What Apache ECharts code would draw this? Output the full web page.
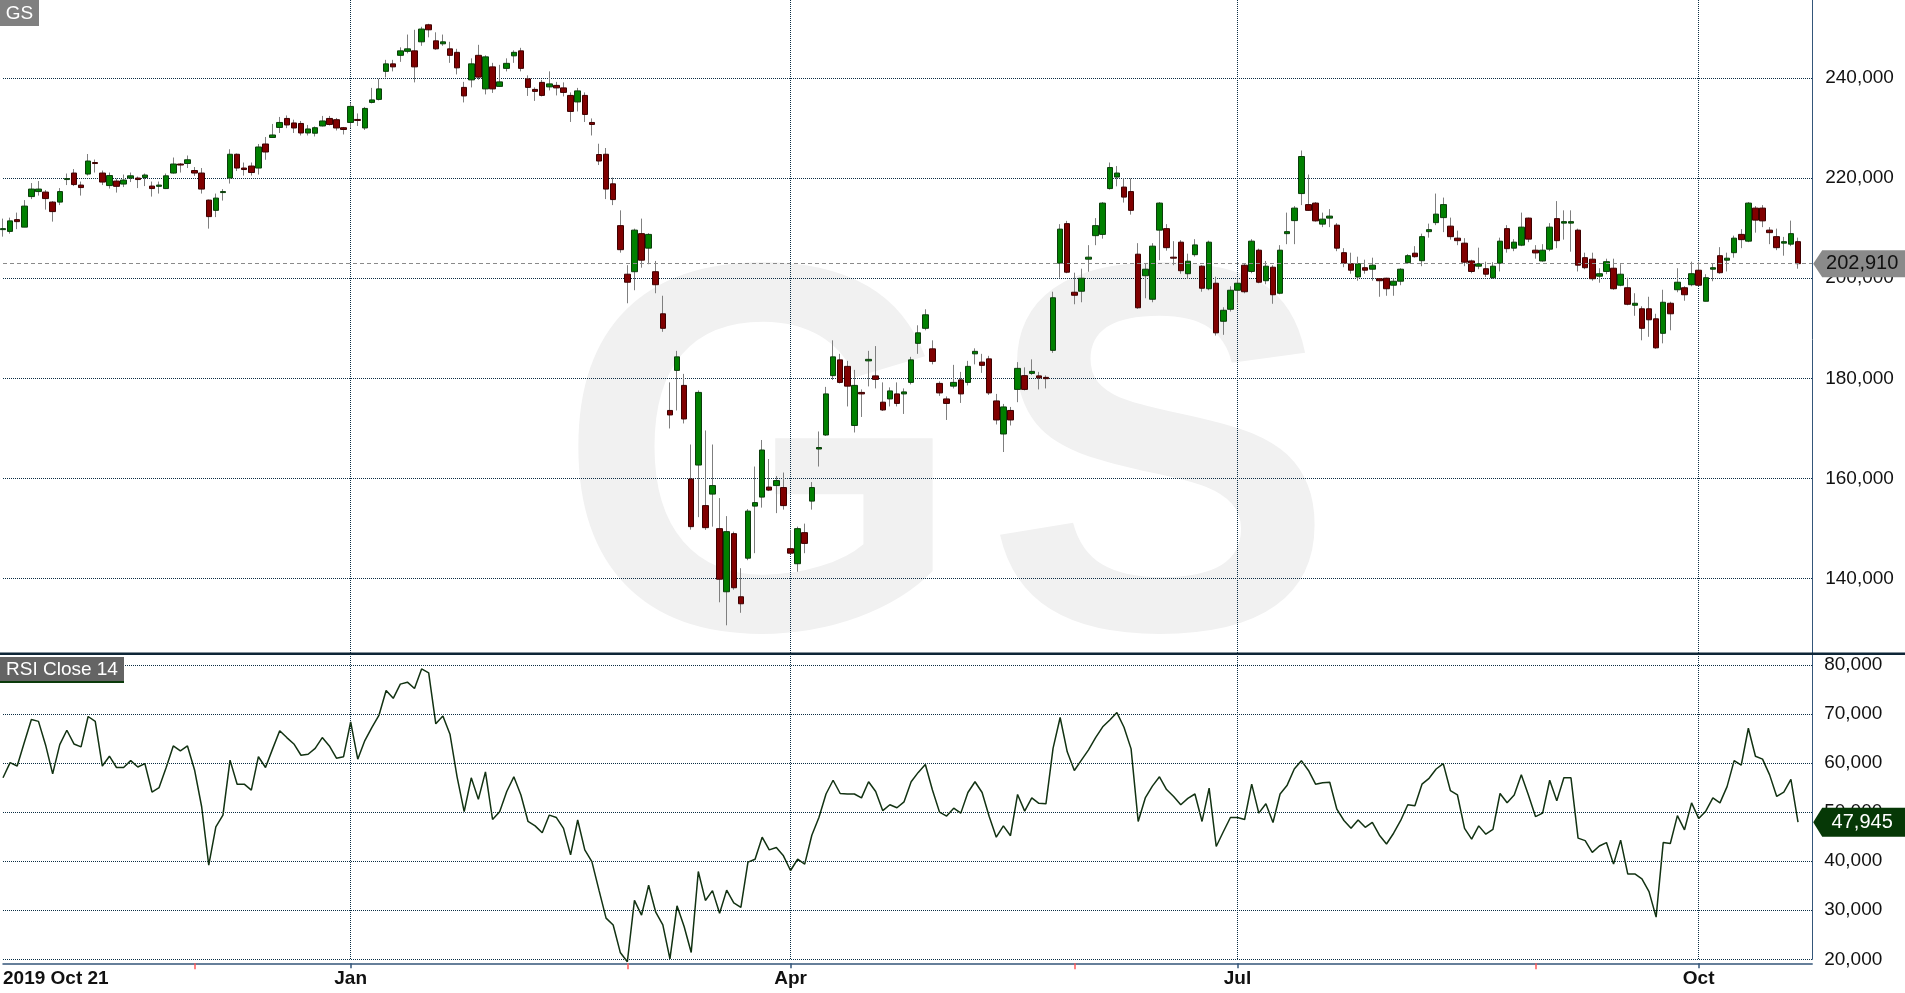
<!DOCTYPE html>
<html><head><meta charset="utf-8">
<script src="https://cdn.jsdelivr.net/npm/echarts@6/dist/echarts.min.js"></script>
<style>html,body{margin:0;padding:0;background:#fff;overflow:hidden;}#chart{width:1905px;height:993px;}</style>
</head><body><div id="chart"></div>
<script>
// ---- Data (GS daily, 2019-10-21 .. 2020-10-21), prices in USD ----
const open = [209.7,209.35,211.7,210.2,216.3,217.3,217.2,215.2,215.2,219.7,
221.0,218.6,220.8,223.1,221.0,218.5,219.4,218.8,220.0,220.0,
220.1,218.4,218.35,217.9,221.0,222.8,222.9,221.5,221.0,215.6,
213.55,217.1,220.0,224.75,222.0,222.4,222.0,226.8,228.1,230.1,
231.9,231.0,230.9,229.0,228.95,230.4,231.9,231.65,230.05,231.1,
231.7,230.0,235.1,235.7,241.3,242.8,244.5,245.3,245.4,247.2,
250.6,247.4,246.8,245.8,245.1,238.1,239.6,244.5,237.8,242.2,
238.3,241.9,244.4,245.4,239.8,237.7,239.1,238.2,238.5,238.0,
236.5,235.2,236.5,231.1,224.7,224.75,218.85,210.5,200.8,201.3,
208.9,206.0,201.3,192.9,173.6,181.6,178.6,159.9,162.7,154.6,
156.9,150.0,137.4,149.0,136.4,144.1,154.5,156.3,158.3,158.6,
158.2,146.0,143.0,149.2,155.5,165.9,168.7,180.55,183.7,182.4,
170.6,177.2,183.5,180.5,175.25,175.9,176.9,176.9,179.2,187.0,
190.0,185.9,179.0,175.9,178.45,179.7,179.2,184.9,183.25,183.9,
175.5,168.9,173.6,177.8,180.55,181.0,180.5,180.2,185.6,203.0,
210.9,197.2,197.4,203.8,208.5,208.75,217.9,220.2,218.2,217.3,
204.8,200.5,195.8,209.6,209.9,204.2,207.2,200.9,204.7,202.4,
197.9,199.0,191.4,193.8,197.6,202.6,201.35,205.6,199.5,202.2,
197.0,208.9,211.5,216.9,214.7,215.0,210.8,212.0,210.6,205.1,
202.9,200.25,202.1,201.8,199.9,200.0,198.6,199.4,203.1,205.0,
203.5,209.3,211.1,212.1,210.4,208.0,207.0,203.45,202.4,201.9,
200.1,203.0,209.9,206.0,206.6,212.0,205.6,203.45,205.8,211.9,
211.0,211.0,209.6,204.1,203.8,200.4,201.35,202.0,198.6,198.1,
194.6,193.9,193.9,191.9,189.0,195.0,197.7,198.1,198.7,201.6,
195.4,201.8,204.5,203.6,205.1,208.75,207.4,214.0,214.0,209.6,
208.3,207.0,206.8,207.3];
const close = [209.9,211.45,211.3,214.4,217.8,217.8,215.9,213.3,217.3,219.9,
218.7,218.1,223.4,222.9,219.2,220.5,218.35,219.6,220.45,219.7,
220.6,217.9,218.6,220.45,222.8,222.6,223.65,221.0,217.8,212.3,
216.0,217.3,224.75,222.0,221.7,221.1,226.2,225.2,228.6,231.1,
230.6,230.0,229.0,229.8,230.05,231.4,230.7,230.0,229.7,234.3,
231.5,233.9,235.6,237.8,242.8,242.2,245.4,245.8,242.2,249.75,
249.6,245.8,247.2,244.5,242.0,236.4,242.8,240.15,244.2,237.8,
239.2,242.9,245.1,241.9,238.1,237.3,236.5,238.8,238.0,237.1,
233.3,237.4,232.7,230.7,223.4,217.8,215.7,205.7,199.2,209.6,
203.6,208.75,198.7,190.0,172.7,184.3,171.9,150.4,177.2,150.2,
158.6,139.9,149.4,138.2,135.0,153.5,155.2,165.7,157.7,159.6,
154.6,145.1,150.0,147.05,158.2,166.2,176.9,184.3,179.2,178.45,
178.6,176.9,183.8,179.8,173.7,177.5,175.0,177.3,183.7,189.1,
192.7,183.4,177.1,175.0,179.2,176.9,182.4,185.4,182.6,177.1,
171.7,174.3,171.7,182.0,177.8,181.4,180.1,179.95,196.1,209.8,
201.2,196.6,200.0,204.2,210.5,215.0,222.1,221.0,216.2,213.55,
194.1,201.8,206.4,215.0,206.1,204.0,201.5,203.4,206.65,198.0,
207.2,189.1,193.6,197.6,199.0,197.3,207.4,199.2,202.4,196.7,
205.6,209.3,214.0,224.3,213.55,211.45,211.8,212.4,206.0,203.0,
201.6,202.9,201.6,202.6,199.5,197.9,199.4,201.8,204.5,204.3,
208.3,209.7,212.8,214.7,208.3,207.5,203.2,201.35,202.9,200.8,
202.4,207.4,205.9,207.2,210.2,207.8,205.05,205.6,210.2,207.5,
211.3,211.3,202.6,202.1,199.9,200.9,203.3,197.9,200.8,194.8,
195.0,190.0,191.7,186.1,195.2,192.9,199.2,196.7,200.9,198.6,
200.1,202.1,201.1,204.0,208.0,207.7,215.0,211.6,211.45,209.1,
206.1,207.3,208.9,202.91];
const high = [211.9,212.1,213.1,215.6,219.0,219.4,217.6,215.4,218.0,220.9,
221.8,219.3,224.8,223.7,221.5,221.1,219.9,220.7,221.1,220.3,
220.9,219.3,219.3,220.9,224.1,223.0,224.5,222.2,222.0,215.7,
216.9,217.8,225.75,224.9,223.1,223.1,226.8,228.2,230.8,232.2,
232.5,231.65,231.4,230.6,230.3,232.4,232.4,232.0,230.2,235.0,
232.9,234.2,238.0,239.8,243.6,243.6,246.1,248.65,249.6,250.2,
250.8,249.1,248.65,247.2,245.8,239.2,243.9,246.6,244.5,243.0,
242.6,243.9,245.5,246.0,240.5,238.1,239.6,241.3,239.2,239.1,
237.1,238.0,237.1,231.9,226.85,226.0,220.1,213.55,202.6,209.9,
211.9,209.0,203.45,196.5,179.2,185.5,180.9,166.8,177.6,169.6,
166.8,156.1,152.5,149.4,142.1,153.9,162.4,167.7,163.9,160.5,
161.2,149.75,150.4,151.0,159.3,169.4,178.3,187.6,184.9,183.5,
181.7,177.8,185.5,186.45,179.2,178.2,179.2,178.0,184.3,190.6,
193.8,187.6,179.4,176.4,182.7,181.3,183.5,186.0,184.9,184.5,
176.9,174.9,174.3,183.25,182.2,183.8,181.3,180.6,197.3,210.8,
211.45,201.1,201.9,206.6,212.0,215.2,223.1,222.4,219.9,219.9,
207.0,203.0,207.0,215.2,210.8,207.4,207.6,204.9,207.8,202.6,
207.5,200.3,194.2,198.4,199.8,202.8,207.8,205.9,203.45,202.6,
206.6,213.1,214.4,225.5,220.7,215.2,213.1,213.8,211.0,206.0,
205.1,204.3,203.7,204.1,200.0,200.1,199.9,202.0,204.8,206.4,
208.9,210.9,216.9,216.1,212.1,209.5,208.0,203.7,206.1,203.3,
203.2,208.1,210.6,207.8,213.1,212.1,206.6,206.8,211.0,215.4,
213.55,213.55,209.9,205.1,205.1,202.0,203.9,203.9,202.8,200.1,
197.0,194.4,196.3,192.9,197.7,195.3,202.0,198.4,203.3,203.3,
200.8,203.0,206.2,205.1,208.5,209.8,215.2,214.4,214.6,210.2,
209.9,208.25,211.5,208.1];
const low = [208.3,208.9,209.8,210.2,215.8,216.5,213.7,211.3,214.6,218.6,
218.4,216.5,220.5,221.1,218.6,217.9,217.1,218.2,219.2,218.0,
218.4,216.3,216.9,217.8,220.9,221.1,222.0,220.45,216.9,209.9,
212.2,215.5,218.9,221.4,220.5,220.5,220.7,223.65,228.0,229.0,
229.96,229.0,228.5,228.5,228.3,230.3,230.5,229.5,228.7,230.0,
230.4,229.6,234.9,235.5,240.1,241.3,243.2,244.9,239.1,246.4,
248.1,245.6,246.4,243.0,240.7,235.1,238.1,239.6,236.7,237.0,
238.2,241.3,243.0,241.3,236.4,235.4,236.3,237.5,236.5,236.3,
231.2,233.3,231.2,228.5,222.6,215.8,214.6,205.1,195.0,197.6,
202.1,202.8,197.0,189.3,170.0,173.6,171.0,149.8,152.3,149.75,
150.4,135.3,130.7,137.8,133.2,143.7,145.1,154.2,157.5,153.1,
153.8,144.9,141.4,145.1,153.8,162.4,168.5,179.7,179.0,174.4,
169.2,172.3,178.4,178.0,173.5,174.4,174.4,172.9,178.8,184.9,
189.6,182.8,176.5,171.7,178.0,175.1,178.6,182.8,181.1,176.7,
170.8,165.3,170.6,175.25,177.6,180.7,177.8,178.0,185.1,200.1,
201.0,194.8,195.2,201.3,206.6,207.9,217.7,218.35,215.1,212.7,
193.9,196.0,195.2,203.6,205.5,202.6,200.9,199.9,204.3,197.3,
197.6,188.55,188.7,193.35,195.0,197.0,201.0,199.0,198.8,194.9,
196.8,206.8,206.8,214.6,213.5,211.3,210.2,210.2,205.4,202.2,
200.9,199.5,200.9,199.5,196.3,196.5,196.5,198.6,202.9,204.1,
202.4,208.1,210.6,209.2,207.7,206.6,202.4,201.0,201.8,200.25,
199.9,201.35,205.1,205.4,206.4,207.2,203.9,203.3,205.4,206.0,
207.7,205.3,201.35,201.8,199.5,199.1,200.8,197.7,198.4,194.6,
192.5,187.6,188.3,185.9,187.0,189.6,197.2,195.5,198.4,198.4,
195.4,199.4,200.9,201.35,204.1,206.0,207.2,209.1,210.2,206.8,
205.6,204.5,206.4,201.9];
const rsi = [57.0,60.1,59.4,64.2,68.9,68.5,63.7,57.8,63.75,66.7,
63.9,63.3,69.5,68.5,59.4,61.4,59.1,59.1,60.5,59.2,
59.9,54.1,55.0,59.1,63.5,62.5,63.5,58.6,51.1,39.2,
47.0,49.4,60.6,55.7,55.7,54.5,61.3,59.1,62.9,66.6,
65.2,63.9,61.6,61.8,63.0,65.2,63.5,61.0,61.3,68.4,
60.8,64.6,67.3,69.8,74.8,73.2,76.1,76.5,75.2,79.2,
78.4,68.0,69.6,65.9,57.2,50.1,57.0,52.6,58.2,48.5,
50.1,54.2,57.2,53.5,48.1,47.2,45.8,49.4,48.9,46.7,
41.3,48.4,42.3,39.9,34.1,28.4,27.0,21.4,19.5,32.0,
29.0,35.1,29.6,27.0,20.1,30.9,26.7,21.4,37.9,32.0,
34.0,29.4,34.1,31.5,30.6,39.8,40.4,44.9,42.3,42.8,
41.1,38.1,40.4,39.4,45.3,48.9,53.7,56.5,53.8,53.7,
53.7,52.9,56.2,54.2,50.3,51.5,50.9,52.1,56.2,58.1,
59.7,54.5,50.0,49.2,50.8,49.8,54.0,56.2,54.0,49.1,
44.9,47.2,45.2,53.6,50.2,52.9,51.8,51.7,63.0,69.3,
62.3,58.5,60.6,62.7,65.2,67.4,68.8,70.3,67.3,62.9,
48.1,52.9,55.3,57.2,54.6,53.2,51.5,52.8,53.7,48.1,
54.9,43.0,46.0,48.9,48.9,48.5,55.7,49.8,51.7,47.9,
53.7,55.5,58.8,60.5,58.5,55.7,56.0,56.1,50.6,48.3,
46.7,48.4,46.9,47.9,45.3,43.5,45.7,48.3,51.5,51.3,
55.7,56.9,58.8,59.9,54.4,53.5,46.7,44.5,47.2,45.5,
46.5,53.8,51.9,53.5,57.6,53.5,49.1,49.8,56.5,52.3,
57.0,57.0,44.7,44.2,41.8,43.1,43.8,39.4,44.3,37.4,
37.4,36.4,33.8,28.6,43.8,43.6,49.3,46.4,51.9,48.7,
50.2,52.9,51.9,55.2,60.5,59.6,67.1,61.4,60.8,57.6,
53.2,54.1,56.7,47.945];

// x-axis ticks
const tickIndex = [0, 49, 111, 174, 239];
const tickLabels = ['2019 Oct 21', 'Jan', 'Apr', 'Jul', 'Oct'];
const minorTickIndex = [27, 88, 151, 216];
const padSlots = 2;

// y-axis ticks
const priceTicks = [140, 160, 180, 200, 220, 240];
const rsiTicks = [20, 30, 40, 50, 60, 70, 80];

// ---- build ----
const n = close.length;
const categories = [];
for (let i = 0; i < n + padSlots; i++) categories.push(String(i));
const labelMap = {}; tickIndex.forEach((t, k) => labelMap[t] = tickLabels[k]);
const labelSet = new Set(tickIndex);
const vSet = new Set(tickIndex.filter(t => t > 0));
const minorSet = new Set(minorTickIndex);
const wickData = [], bodyData = [];
for (let i = 0; i < n; i++) {
  const lo = Math.min(low[i], open[i], close[i]);
  const hi = Math.max(high[i], open[i], close[i]);
  wickData.push([open[i], close[i], lo, hi]);
  bodyData.push([open[i], close[i], Math.min(open[i], close[i]), Math.max(open[i], close[i])]);
}
const lastClose = close[n - 1];
const lastRsi = rsi[n - 1];
const fmt = v => Number(v).toFixed(3).replace('.', ',');

const FONT = 'Arial, "Liberation Sans", sans-serif';
const gridColor = '#0b2e44';
const axisColor = '#34567a';
const dotted = { color: gridColor, type: [1, 1], width: 1 };
const WM_FONT = 'bold 525px "Liberation Sans", Arial, sans-serif';

const chart = echarts.init(document.getElementById('chart'), null, { renderer: 'canvas' });
const option = {
  animation: false,
  backgroundColor: '#ffffff',
  textStyle: { fontFamily: FONT },
  grid: [
    { left: 3, width: 1809.2, top: 0, height: 678.9 },
    { left: 3, width: 1809.2, top: 654, height: 305.3 }
  ],
  xAxis: [
    { type: 'category', gridIndex: 0, data: categories, boundaryGap: false,
      axisLine: { show: false }, axisTick: { show: false }, axisLabel: { show: false },
      splitLine: { show: true, interval: (i) => vSet.has(i), lineStyle: dotted } },
    { type: 'category', gridIndex: 1, data: categories, boundaryGap: false, position: 'bottom', offset: 4,
      axisLine: { show: true, lineStyle: { color: axisColor, width: 1.5 } },
      axisTick: { show: true, interval: (i) => vSet.has(i), length: 5, lineStyle: { color: axisColor, width: 1.5 } },
      axisLabel: { show: true, interval: (i) => labelSet.has(i), formatter: (v, i) => labelMap[i] || '',
        color: '#111', fontSize: 19, fontWeight: 'bold', margin: 6, alignMinLabel: 'left', fontFamily: FONT },
      splitLine: { show: true, interval: (i) => vSet.has(i), lineStyle: dotted } },
    { type: 'category', gridIndex: 1, data: categories, boundaryGap: false, position: 'bottom', offset: 4,
      axisLine: { show: false },
      axisTick: { show: true, interval: (i) => minorSet.has(i), length: 6, lineStyle: { color: '#ff5a5a', width: 1.5 } },
      axisLabel: { show: false }, splitLine: { show: false } }
  ],
  yAxis: [
    { type: 'value', gridIndex: 0, position: 'right', min: 120, max: 255.55, interval: 20, scale: false,
      axisLine: { show: true, lineStyle: { color: axisColor, width: 1 } }, axisTick: { show: false },
      axisLabel: { color: '#111', fontSize: 19, margin: 13, fontFamily: FONT, showMinLabel: false, showMaxLabel: false,
        formatter: v => priceTicks.indexOf(Math.round(v)) >= 0 ? fmt(v) : '' },
      splitLine: { show: true, showMinLine: false, showMaxLine: false, lineStyle: dotted } },
    { type: 'value', gridIndex: 1, position: 'right', min: 20, max: 82.24, interval: 10,
      axisLine: { show: true, lineStyle: { color: axisColor, width: 1 } }, axisTick: { show: false },
      axisLabel: { color: '#111', fontSize: 19, margin: 12, fontFamily: FONT, showMaxLabel: false,
        formatter: v => rsiTicks.indexOf(Math.round(v)) >= 0 && Math.abs(v - Math.round(v)) < 1e-6 ? fmt(v) : '' },
      splitLine: { show: true, showMaxLine: false, lineStyle: dotted } }
  ],
  series: [
    { type: 'candlestick', name: 'wick', xAxisIndex: 0, yAxisIndex: 0, data: wickData, barWidth: 1, clip: false, silent: true, z: 2,
      itemStyle: { color: '#7f7f7f', color0: '#7f7f7f', borderColor: '#7f7f7f', borderColor0: '#7f7f7f', borderWidth: 1 } },
    { type: 'candlestick', name: 'GS', xAxisIndex: 0, yAxisIndex: 0, data: bodyData, barWidth: 6, clip: false, z: 3,
      itemStyle: { color: '#008000', color0: '#800000', borderColor: '#0b3d0b', borderColor0: '#3d0000', borderWidth: 1 },
      markLine: { silent: true, symbol: ['none', 'none'], label: { show: false },
        lineStyle: { color: '#8a8a8a', type: [4, 3], width: 1 }, data: [{ yAxis: lastClose }] },
      markPoint: { silent: true, symbol: 'path://M0,13.5L9,0L92,0L92,27L9,27Z', symbolSize: [92, 27], symbolKeepAspect: false,
        symbolOffset: [47, 0], itemStyle: { color: '#8a8a8a' },
        label: { show: true, position: 'inside', formatter: () => fmt(lastClose), color: '#111', fontSize: 20, fontFamily: FONT, offset: [3, 0] },
        data: [{ coord: [n + padSlots - 1, lastClose], value: lastClose }] } },
    { type: 'line', name: 'RSI', xAxisIndex: 1, yAxisIndex: 1, data: rsi, showSymbol: false, symbol: 'none', clip: false, z: 3,
      lineStyle: { color: '#123212', width: 1.5 },
      markPoint: { silent: true, symbol: 'path://M0,14.5L9,0L92,0L92,29L9,29Z', symbolSize: [92, 29], symbolKeepAspect: false,
        symbolOffset: [47, 0], itemStyle: { color: '#063806' },
        label: { show: true, position: 'inside', formatter: () => fmt(lastRsi), color: '#ffffff', fontSize: 20, fontFamily: FONT, offset: [3, 0] },
        data: [{ coord: [n + padSlots - 1, lastRsi], value: lastRsi }] } }
  ],
  graphic: { elements: [
    { type: 'text', z: -10, silent: true, x: 761, y: 484,
      style: { text: 'G', font: WM_FONT, fill: '#f1f1f1', align: 'center', verticalAlign: 'middle', textAlign: 'center', textVerticalAlign: 'middle' } },
    { type: 'text', z: -10, silent: true, x: 1160, y: 484,
      style: { text: 'S', font: WM_FONT, fill: '#f1f1f1', align: 'center', verticalAlign: 'middle', textAlign: 'center', textVerticalAlign: 'middle' } },
    { type: 'rect', z: -9, silent: true, shape: { x: 0, y: 655, width: 1905, height: 338 }, style: { fill: '#ffffff' } },
    { type: 'rect', z: 100, silent: true, shape: { x: 0, y: 652.5, width: 1905, height: 2.5 }, style: { fill: '#0d2536' } },
    { type: 'rect', z: 100, silent: true, shape: { x: 0, y: 0, width: 39, height: 26 }, style: { fill: '#808080' } },
    { type: 'text', z: 101, silent: true, x: 19.5, y: 13.5,
      style: { text: 'GS', font: '19px ' + FONT, fill: '#ffffff', align: 'center', verticalAlign: 'middle', textAlign: 'center', textVerticalAlign: 'middle' } },
    { type: 'rect', z: 100, silent: true, shape: { x: 0, y: 657, width: 124, height: 25 }, style: { fill: '#646464' } },
    { type: 'rect', z: 100, silent: true, shape: { x: 0, y: 681, width: 124, height: 2 }, style: { fill: '#0b3a0b' } },
    { type: 'text', z: 101, silent: true, x: 6, y: 669.5,
      style: { text: 'RSI Close 14', font: '19px ' + FONT, fill: '#ffffff', align: 'left', verticalAlign: 'middle', textAlign: 'left', textVerticalAlign: 'middle' } }
  ] }
};
chart.setOption(option);
</script>
</body></html>
